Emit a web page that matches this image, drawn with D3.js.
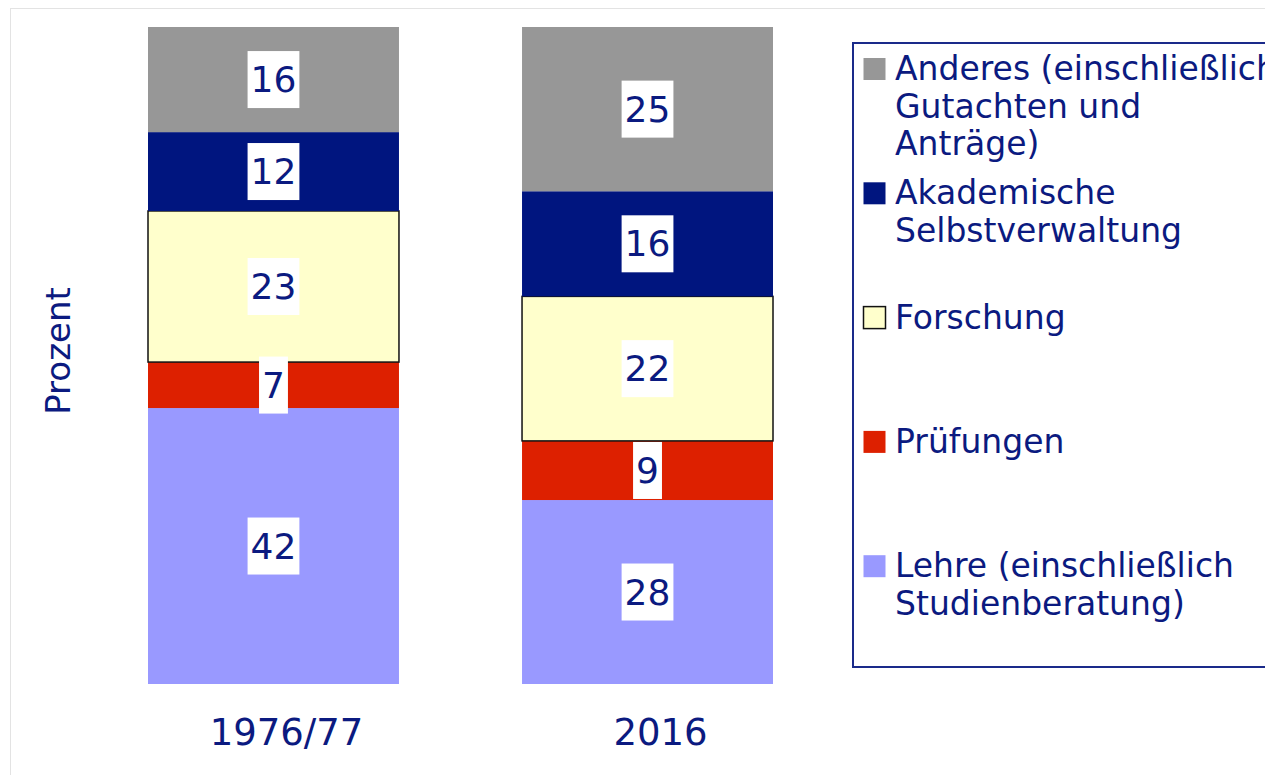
<!DOCTYPE html>
<html>
<head>
  <meta charset="utf-8">
  <style>
    body {
        margin: 0;
        background: #fff;
        font-family: "DejaVu Sans", Verdana, sans-serif;
    }
    svg text {
        fill: #0b1a80;
    }
  </style>
</head>
<body>
<script src="https://d3js.org/d3.v7.min.js"></script>
<div id="chart"></div>
<script>
    // Periods shown on the x axis
    const periods = ["1976/77", "2016"];

    // Shares in percent, one array per activity (bottom to top of the stack)
    const lehre = [42, 28];
    const pruefungen = [7, 9];
    const forschung = [23, 22];
    const selbstverwaltung = [12, 16];
    const anderes = [16, 25];

    const keys = ["lehre", "pruefungen", "forschung", "selbstverwaltung", "anderes"];
    const colors = ["#9999ff", "#dd2000", "#ffffcc", "#00157f", "#979797"];

    // Legend labels, top to bottom, already broken into lines
    const legendLabels = [
      ["Anderes (einschließlich", "Gutachten und", "Anträge)"],
      ["Akademische", "Selbstverwaltung"],
      ["Forschung"],
      ["Prüfungen"],
      ["Lehre (einschließlich", "Studienberatung)"]
    ];
    const legendKeys = ["anderes", "selbstverwaltung", "forschung", "pruefungen", "lehre"];

    const yLabel = "Prozent";

    // Build rows for d3.stack
    const series = { lehre, pruefungen, forschung, selbstverwaltung, anderes };
    const rows = periods.map((p, i) => {
      const r = { period: p };
      keys.forEach(k => r[k] = series[k][i]);
      return r;
    });

    const width = 1265, height = 775;

    const svg = d3.select("#chart").append("svg")
      .attr("width", width)
      .attr("height", height);

    // faint frame of the original figure
    svg.append("rect")
      .attr("x", 10.5).attr("y", 8.5)
      .attr("width", 1400).attr("height", 900)
      .attr("fill", "none")
      .attr("stroke", "#e3e3e3")
      .attr("stroke-width", 1);

    const xScale = d3.scaleBand()
      .domain(periods)
      .range([148, 773])
      .paddingInner(0.329)
      .paddingOuter(0);

    const yScale = d3.scaleLinear()
      .domain([0, 100])
      .range([684, 27]);

    const color = d3.scaleOrdinal().domain(keys).range(colors);

    const stacked = d3.stack().keys(keys)(rows);

    // Segments
    const layers = svg.selectAll(".layer")
      .data(stacked)
      .join("g")
      .attr("class", "layer")
      .attr("fill", d => color(d.key));

    layers.selectAll("rect")
      .data(d => d.map(v => Object.assign(v, { key: d.key })))
      .join("rect")
      .attr("x", d => xScale(d.data.period))
      .attr("y", d => yScale(d[1]))
      .attr("width", xScale.bandwidth())
      .attr("height", d => yScale(d[0]) - yScale(d[1]))
      .attr("stroke", d => d.key === "forschung" ? "#111" : "none")
      .attr("stroke-width", 1.5);

    // Value labels on white boxes
    const labels = svg.append("g").attr("class", "values");
    stacked.forEach(layer => {
      layer.forEach(d => {
        const cx = xScale(d.data.period) + xScale.bandwidth() / 2;
        const cy = (yScale(d[0]) + yScale(d[1])) / 2;
        const g = labels.append("g");
        const box = g.append("rect").attr("fill", "#fff");
        const t = g.append("text")
          .attr("x", cx)
          .attr("y", cy)
          .attr("text-anchor", "middle")
          .attr("dominant-baseline", "central")
          .style("font-size", "36px")
          .text(d[1] - d[0]);
        const bb = t.node().getBBox();
        box.attr("x", bb.x - 3)
          .attr("y", cy - 28.5)
          .attr("width", bb.width + 6)
          .attr("height", 57);
      });
    });

    // X axis labels (no axis line)
    const xAxis = d3.axisBottom(xScale).tickSize(0).tickPadding(0);
    const xg = svg.append("g")
      .attr("transform", "translate(13, 718)")
      .call(xAxis);
    xg.select(".domain").remove();
    xg.selectAll("text")
      .attr("fill", "#0b1a80")
      .attr("dy", "0.72em")
      .style("font-size", "37px")
      .style("font-family", "DejaVu Sans, sans-serif");

    // Y axis title
    svg.append("text")
      .attr("transform", "translate(70, 351) rotate(-90)")
      .attr("text-anchor", "middle")
      .style("font-size", "34px")
      .text(yLabel);

    // Legend
    svg.append("rect")
      .attr("x", 853).attr("y", 43)
      .attr("width", 600).attr("height", 624)
      .attr("fill", "#fff")
      .attr("stroke", "#1a2a8a")
      .attr("stroke-width", 2);

    const legend = svg.append("g").attr("class", "legend");
    legendKeys.forEach((k, i) => {
      const base = 80 + i * 124.3;
      legend.append("rect")
        .attr("x", 863.5).attr("y", base - 22)
        .attr("width", 22).attr("height", 22)
        .attr("fill", color(k))
        .attr("stroke", k === "forschung" ? "#111" : "none")
        .attr("stroke-width", 1.5);
      const t = legend.append("text")
        .attr("x", 895)
        .attr("y", base)
        .style("font-size", "33px");
      legendLabels[i].forEach((line, j) => {
        t.append("tspan")
          .attr("x", 895)
          .attr("y", base + j * 37.5)
          .text(line);
      });
    });
</script>
</body>
</html>
